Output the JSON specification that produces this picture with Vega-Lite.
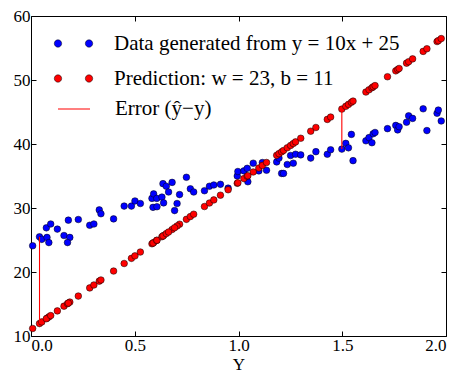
{
  "$schema": "https://vega.github.io/schema/vega-lite/v6.json",
  "width": 415,
  "height": 320,
  "autosize": "none",
  "padding": {"left": 31, "top": 16, "right": 14, "bottom": 39},
  "datasets": {
    "obs": [
      {"x":0.008,"y":24.1},{"x":0.041,"y":25.5},{"x":0.052,"y":25.1},{"x":0.077,"y":25.4},{"x":0.086,"y":24.6},
      {"x":0.074,"y":26.9},{"x":0.095,"y":27.5},{"x":0.127,"y":26.7},{"x":0.159,"y":25.7},{"x":0.187,"y":25.4},
      {"x":0.176,"y":24.6},{"x":0.180,"y":28.1},{"x":0.228,"y":28.2},{"x":0.283,"y":27.3},{"x":0.303,"y":27.5},
      {"x":0.329,"y":29.7},{"x":0.337,"y":29.1},{"x":0.398,"y":28.3},{"x":0.449,"y":30.3},{"x":0.484,"y":30.3},
      {"x":0.501,"y":31.1},{"x":0.527,"y":30.7},{"x":0.583,"y":31.5},{"x":0.591,"y":32.2},{"x":0.588,"y":30.1},
      {"x":0.606,"y":31.5},{"x":0.607,"y":30.2},{"x":0.631,"y":31.7},{"x":0.639,"y":30.8},{"x":0.636,"y":33.8},
      {"x":0.652,"y":33.4},{"x":0.680,"y":34.0},{"x":0.663,"y":32.5},{"x":0.716,"y":32.1},{"x":0.704,"y":30.7},
      {"x":0.692,"y":29.6},{"x":0.749,"y":34.8},{"x":0.768,"y":33.0},{"x":0.784,"y":32.5},{"x":0.836,"y":32.7},
      {"x":0.860,"y":33.4},{"x":0.881,"y":33.6},{"x":0.913,"y":33.7},{"x":0.950,"y":33.1},{"x":0.994,"y":35.0},
      {"x":0.997,"y":35.7},{"x":1.026,"y":35.8},{"x":1.042,"y":36.2},{"x":1.071,"y":37.0},{"x":1.045,"y":34.1},
      {"x":1.098,"y":35.8},{"x":1.115,"y":37.1},{"x":1.135,"y":35.9},{"x":1.184,"y":37.2},{"x":1.195,"y":37.8},
      {"x":1.208,"y":35.4},{"x":1.217,"y":35.4},{"x":1.235,"y":36.8},{"x":1.251,"y":38.2},{"x":1.264,"y":37.0},
      {"x":1.275,"y":38.4},{"x":1.300,"y":38.3},{"x":1.348,"y":37.8},{"x":1.373,"y":38.8},{"x":1.428,"y":38.4},
      {"x":1.444,"y":39.1},{"x":1.498,"y":39.2},{"x":1.517,"y":40.1},{"x":1.530,"y":39.4},{"x":1.544,"y":41.5},
      {"x":1.552,"y":37.4},{"x":1.614,"y":40.5},{"x":1.629,"y":41.0},{"x":1.643,"y":40.2},{"x":1.649,"y":41.6},
      {"x":1.658,"y":41.8},{"x":1.718,"y":42.4},{"x":1.758,"y":42.9},{"x":1.767,"y":42.2},{"x":1.774,"y":42.7},
      {"x":1.810,"y":43.4},{"x":1.820,"y":44.4},{"x":1.839,"y":44.0},{"x":1.890,"y":45.5},{"x":1.908,"y":42.1},
      {"x":1.957,"y":44.8},{"x":1.963,"y":45.3},{"x":1.977,"y":43.6}
    ],
    "pred": [
      {"x":0.008,"y":11.18},{"x":0.041,"y":11.94},{"x":0.052,"y":12.20},{"x":0.077,"y":12.77},{"x":0.086,"y":12.98},
      {"x":0.074,"y":12.70},{"x":0.095,"y":13.19},{"x":0.127,"y":13.92},{"x":0.159,"y":14.66},{"x":0.187,"y":15.30},
      {"x":0.176,"y":15.05},{"x":0.180,"y":15.14},{"x":0.228,"y":16.24},{"x":0.283,"y":17.51},{"x":0.303,"y":17.97},
      {"x":0.329,"y":18.57},{"x":0.337,"y":18.75},{"x":0.398,"y":20.15},{"x":0.449,"y":21.33},{"x":0.484,"y":22.13},
      {"x":0.501,"y":22.52},{"x":0.527,"y":23.12},{"x":0.583,"y":24.41},{"x":0.591,"y":24.59},{"x":0.588,"y":24.52},
      {"x":0.606,"y":24.94},{"x":0.607,"y":24.96},{"x":0.631,"y":25.51},{"x":0.639,"y":25.70},{"x":0.636,"y":25.63},
      {"x":0.652,"y":26.00},{"x":0.680,"y":26.64},{"x":0.663,"y":26.25},{"x":0.716,"y":27.47},{"x":0.704,"y":27.19},
      {"x":0.692,"y":26.92},{"x":0.749,"y":28.23},{"x":0.768,"y":28.66},{"x":0.784,"y":29.03},{"x":0.836,"y":30.23},
      {"x":0.860,"y":30.78},{"x":0.881,"y":31.26},{"x":0.913,"y":32.00},{"x":0.950,"y":32.85},{"x":0.994,"y":33.86},
      {"x":0.997,"y":33.93},{"x":1.026,"y":34.60},{"x":1.042,"y":34.97},{"x":1.071,"y":35.63},{"x":1.045,"y":35.04},
      {"x":1.098,"y":36.25},{"x":1.115,"y":36.65},{"x":1.135,"y":37.11},{"x":1.184,"y":38.23},{"x":1.195,"y":38.49},
      {"x":1.208,"y":38.78},{"x":1.217,"y":38.99},{"x":1.235,"y":39.41},{"x":1.251,"y":39.77},{"x":1.264,"y":40.07},
      {"x":1.275,"y":40.33},{"x":1.300,"y":40.90},{"x":1.348,"y":42.00},{"x":1.373,"y":42.58},{"x":1.428,"y":43.84},
      {"x":1.444,"y":44.21},{"x":1.498,"y":45.45},{"x":1.517,"y":45.89},{"x":1.530,"y":46.19},{"x":1.544,"y":46.51},
      {"x":1.552,"y":46.70},{"x":1.614,"y":48.12},{"x":1.629,"y":48.47},{"x":1.643,"y":48.79},{"x":1.649,"y":48.93},
      {"x":1.658,"y":49.13},{"x":1.718,"y":50.51},{"x":1.758,"y":51.43},{"x":1.767,"y":51.64},{"x":1.774,"y":51.80},
      {"x":1.810,"y":52.63},{"x":1.820,"y":52.86},{"x":1.839,"y":53.30},{"x":1.890,"y":54.47},{"x":1.908,"y":54.88},
      {"x":1.957,"y":56.01},{"x":1.963,"y":56.15},{"x":1.977,"y":56.47}
    ],
    "err": [
      {"x":0.041,"y":25.5,"y2":11.94},
      {"x":1.498,"y":39.2,"y2":45.45}
    ]
  },
  "config": {
    "view": {"stroke": "black", "strokeWidth": 1},
    "font": "Liberation Serif",
    "axis": {
      "labelFont": "Liberation Serif",
      "labelFontSize": 17,
      "labelColor": "black",
      "titleFont": "Liberation Serif",
      "titleFontSize": 17,
      "titleFontWeight": "normal",
      "titleColor": "black",
      "tickColor": "black",
      "tickSize": -5,
      "domain": false,
      "grid": false
    },
    "legend": {
      "orient": "top-left",
      "offset": 11,
      "symbolOffset": 15,
      "title": null,
      "labelFont": "Liberation Serif",
      "labelFontSize": 21,
      "labelColor": "black",
      "labelLimit": 500,
      "symbolSize": 1024,
      "labelOffset": 24,
      "rowPadding": 8,
      "layout": {"top-left": {"direction": "vertical", "margin": 3, "anchor": "start"}}
    }
  },
  "layer": [
    {
      "data": {"name": "obs"},
      "transform": [{"calculate": "'Data'", "as": "series"}],
      "mark": {"type": "point", "filled": true, "stroke": "black", "strokeWidth": 0.5, "size": 44, "opacity": 1},
      "encoding": {
        "x": {"field": "x", "type": "quantitative", "scale": {"domain": [0, 2], "nice": false, "zero": false},
              "axis": {"orient": "bottom", "title": "Y", "values": [0, 0.5, 1, 1.5, 2], "format": ".1f", "labelPadding": 6, "titlePadding": 3}},
        "y": {"field": "y", "type": "quantitative", "scale": {"domain": [10, 60], "nice": false, "zero": false},
              "axis": {"orient": "left", "title": null, "values": [10, 20, 30, 40, 50, 60], "format": "d", "labelPadding": 6}},
        "color": {"field": "series", "type": "nominal",
                  "scale": {"domain": ["Data", "Prediction"], "range": ["#0000ff", "#ff0000"]},
                  "legend": {
                    "orient": "top-left",
                    "labelExpr": "datum.value === 'Data' ? 'Data generated from y = 10x + 25' : 'Prediction: w = 23, b = 11'",
                    "symbolType": "M-1.2,0a0.23,0.23 0 1,0 0.46,0a0.23,0.23 0 1,0 -0.46,0Z M0.74,0a0.23,0.23 0 1,0 0.46,0a0.23,0.23 0 1,0 -0.46,0Z",
                    "symbolStrokeColor": "black",
                    "symbolStrokeWidth": 0.5,
                    "symbolOpacity": 1
                  }}
      }
    },
    {
      "data": {"name": "pred"},
      "transform": [{"calculate": "'Prediction'", "as": "series"}],
      "mark": {"type": "point", "filled": true, "stroke": "black", "strokeWidth": 0.5, "size": 44, "opacity": 1},
      "encoding": {
        "x": {"field": "x", "type": "quantitative",
              "axis": {"orient": "top", "title": null, "values": [0, 0.5, 1, 1.5, 2], "labels": false}},
        "y": {"field": "y", "type": "quantitative",
              "axis": {"orient": "right", "title": null, "values": [10, 20, 30, 40, 50, 60], "labels": false}},
        "color": {"field": "series", "type": "nominal"}
      }
    },
    {
      "data": {"name": "err"},
      "transform": [{"calculate": "'Error'", "as": "series"}],
      "mark": {"type": "rule", "strokeWidth": 1.1, "color": "#ff0000"},
      "encoding": {
        "x": {"field": "x", "type": "quantitative", "axis": null},
        "y": {"field": "y", "type": "quantitative", "axis": null},
        "y2": {"field": "y2"},
        "strokeDash": {"field": "series", "type": "nominal",
                       "scale": {"domain": ["Error"], "range": [[1, 0]]},
                       "legend": {
                         "orient": "top-left",
                         "labelExpr": "'Error (ŷ−y)'",
                         "symbolType": "stroke",
                         "symbolStrokeColor": "#ff5555",
                         "symbolStrokeWidth": 1.3
                       }}
      }
    }
  ],
  "resolve": {"axis": {"x": "independent", "y": "independent"}}
}
